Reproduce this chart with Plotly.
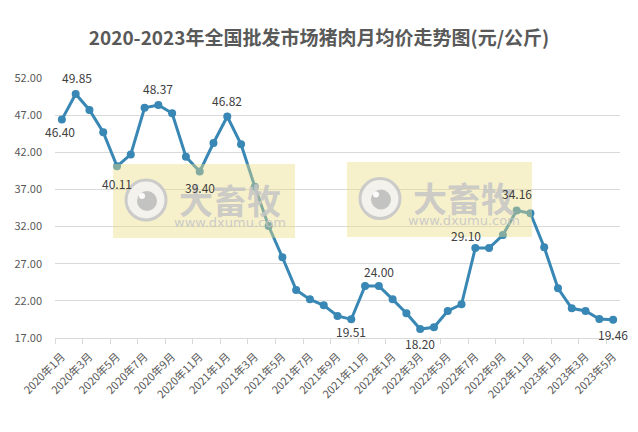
import plotly.graph_objects as go

months = [
    "2020年1月", "2020年2月", "2020年3月", "2020年4月", "2020年5月", "2020年6月",
    "2020年7月", "2020年8月", "2020年9月", "2020年10月", "2020年11月", "2020年12月",
    "2021年1月", "2021年2月", "2021年3月", "2021年4月", "2021年5月", "2021年6月",
    "2021年7月", "2021年8月", "2021年9月", "2021年10月", "2021年11月", "2021年12月",
    "2022年1月", "2022年2月", "2022年3月", "2022年4月", "2022年5月", "2022年6月",
    "2022年7月", "2022年8月", "2022年9月", "2022年10月", "2022年11月", "2022年12月",
    "2023年1月", "2023年2月", "2023年3月", "2023年4月", "2023年5月",
]
prices = [
    46.40, 49.85, 47.70, 44.70, 40.11, 41.70, 48.00, 48.37, 47.25, 41.40, 39.40, 43.25,
    46.82, 43.07, 37.37, 32.08, 27.87, 23.47, 22.20, 21.40, 19.97, 19.51, 24.00, 24.00,
    22.20, 20.33, 18.20, 18.45, 20.64, 21.54, 29.10, 29.10, 30.87, 34.16, 33.79, 29.21,
    23.70, 21.00, 20.64, 19.55, 19.46,
]
tick_labels = months[::2]
y_ticks = [17, 22, 27, 32, 37, 42, 47, 52]
labeled_points = [0, 1, 4, 7, 10, 12, 21, 23, 26, 30, 33, 40]

# label placement (style): (xshift, yshift)
label_offsets = {0: (-2, -12), 1: (1, 16), 4: (0, -17), 7: (0, 16), 10: (0, -16),
                 12: (0, 16), 21: (0, -12), 23: (0, 15), 26: (0, -14), 30: (-9, 13),
                 33: (0, 17), 40: (0, -15)}

LINE = "#3887B4"
FONT = "Noto Sans CJK SC, Open Sans, sans-serif"
fig = go.Figure()
fig.add_trace(go.Scatter(
    x=months, y=prices, mode="lines+markers",
    line=dict(color=LINE, width=3),
    marker=dict(color=LINE, size=8),
    hoverinfo="x+y", showlegend=False,
))
# invisible trace to activate boundary tick axis
fig.add_trace(go.Scatter(x=[-0.5, 40.5], y=[None, None], xaxis="x2", yaxis="y",
                         showlegend=False, hoverinfo="skip"))

annotations = []
# watermarks
shapes = []
wm_boxes = [(0.1027, 0.4248, 0.3846, 0.6692), (0.5168, 0.8442, 0.3885, 0.6769)]
for (x0, x1, y0, y1) in wm_boxes:
    shapes.append(dict(type="rect", xref="paper", yref="paper", x0=x0, x1=x1, y0=y0, y1=y1,
                       fillcolor="rgba(236,222,130,0.42)", line=dict(width=0), layer="above"))
    lx = x0 + 33 / 565
    ly = (y0 + y1) / 2 + 1 / 260
    shapes.append(dict(type="circle", xref="paper", yref="paper", xsizemode="pixel", ysizemode="pixel",
                       xanchor=lx, yanchor=ly, x0=-20, x1=20, y0=-20, y1=20,
                       fillcolor="rgba(242,242,242,0.85)", line=dict(color="rgba(200,200,200,0.95)", width=3),
                       layer="above"))
    shapes.append(dict(type="circle", xref="paper", yref="paper", xsizemode="pixel", ysizemode="pixel",
                       xanchor=lx, yanchor=ly, x0=-9, x1=11, y0=-11, y1=9,
                       fillcolor="rgba(192,192,192,0.95)", line=dict(width=0), layer="above"))
    shapes.append(dict(type="circle", xref="paper", yref="paper", xsizemode="pixel", ysizemode="pixel",
                       xanchor=lx, yanchor=ly, x0=-7, x1=-1, y0=1, y1=7,
                       fillcolor="rgba(255,255,255,0.95)", line=dict(width=0), layer="above"))
    tx = x0 + 117 / 565
    annotations.append(dict(xref="paper", yref="paper", x=tx, y=ly + 1 / 260, text="<b>大畜牧</b>",
                            showarrow=False, xanchor="center", yanchor="middle",
                            font=dict(size=34, color="rgba(198,198,198,0.9)", family="Noto Sans CJK SC")))
    annotations.append(dict(xref="paper", yref="paper", x=tx, y=ly - 22 / 260, text="www.dxumu.com",
                            showarrow=False, xanchor="center", yanchor="middle",
                            font=dict(size=13, color="rgba(198,198,198,0.9)", family="DejaVu Sans")))

for i in labeled_points:
    dx, dy = label_offsets[i]
    annotations.append(dict(x=months[i], y=prices[i], text=f"{prices[i]:.2f}",
                            showarrow=False, xshift=dx, yshift=dy,
                            font=dict(size=12, color="#404040", family=FONT)))

fig.update_layout(
    width=638, height=432,
    paper_bgcolor="white", plot_bgcolor="white",
    margin=dict(l=55, r=18, t=78, b=94, autoexpand=False),
    title=dict(text="<b>2020-2023年全国批发市场猪肉月均价走势图(元/公斤)</b>",
               x=0.5, xref="container", xanchor="center", y=1 - 38 / 432, yanchor="middle",
               font=dict(size=19, color="#595959", family="Noto Sans CJK SC")),
    xaxis=dict(type="category", categoryorder="array", categoryarray=months,
               range=[-0.5, 40.5], tickvals=tick_labels, ticktext=tick_labels,
               tickangle=-45, showgrid=False, showline=True, linecolor="#D9D9D9", linewidth=1,
               ticks="", ticklabelstandoff=7, tickfont=dict(size=11, color="#595959", family=FONT),
               zeroline=False, fixedrange=True, automargin=False),
    xaxis2=dict(overlaying="x", range=[-0.5, 40.5], tickmode="array",
                tickvals=[k - 0.5 for k in range(0, 41, 2)],
                showticklabels=False, ticks="outside", ticklen=5, tickcolor="#D9D9D9",
                showgrid=False, zeroline=False, side="bottom", anchor="y", automargin=False),
    yaxis=dict(range=[17, 52], tickvals=y_ticks, tickformat=".2f",
               showgrid=True, gridcolor="#D9D9D9", gridwidth=1, zeroline=False,
               showline=False, ticks="", ticklabelstandoff=12, automargin=False,
               tickfont=dict(size=11, color="#595959", family=FONT)),
    annotations=annotations,
    shapes=shapes,
)
fig.write_html("out.html", config={"displayModeBar": False},
               post_script="document.body.style.margin='0';document.body.style.overflow='hidden';")
